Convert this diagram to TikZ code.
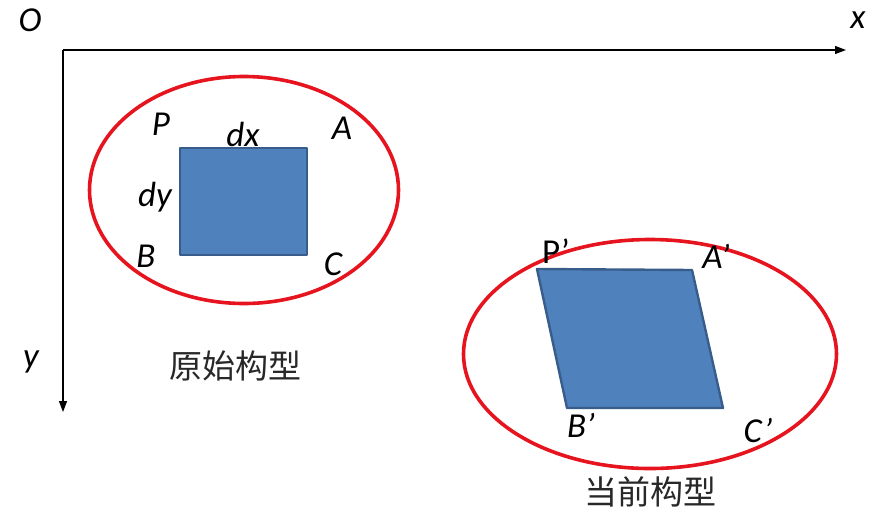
\documentclass[tikz,border=0pt]{standalone}
\usepackage{fontspec}
\setmainfont{Carlito}
\newfontfamily\cjk{Noto Sans CJK SC}
\usepackage{tikz}
\usetikzlibrary{arrows.meta,shapes.geometric}

\tikzset{
  axis/.style={line width=1.2pt,-{Triangle[length=11pt,width=8pt]}},
  ring/.style={ellipse,draw={rgb,255:red,230;green,20;blue,30},line width=3.6pt,inner sep=0pt},
  patch/.style={fill={rgb,255:red,79;green,129;blue,189},draw={rgb,255:red,56;green,93;blue,138},line width=2.4pt,line join=round},
  lbl/.style={font=\fontsize{35}{38}\selectfont\itshape,inner sep=0pt},
  captext/.style={font=\cjk\fontsize{33}{36}\selectfont,text={rgb,255:red,40;green,40;blue,40},inner sep=0pt}
}

\begin{document}
\begin{tikzpicture}[x=1pt,y=-1pt]

\useasboundingbox (0,0) rectangle (873,512);

\coordinate (o) at (63,50);
\coordinate (xend) at (846,50);
\coordinate (yend) at (63,412);

\node[lbl] (O) at (30,20) {O};
\node[lbl] (xl) at (858,20) {x};
\node[lbl] (yl) at (31,362) {y};

\draw[axis] (o) -- (xend);
\draw[axis] (o) -- (yend);

% original configuration
\node[ring,minimum width=309pt,minimum height=227pt] (e1) at (244,190) {};

\coordinate (p) at (180,148);
\coordinate (a) at (307,148);
\coordinate (c) at (307,255);
\coordinate (b) at (180,255);
\draw[patch] (p) -- (a) -- (c) -- (b) -- cycle;

\node[lbl] (pl) at (161,124) {P};
\node[lbl] (dx) at (243,134) {dx};
\node[lbl] (al) at (342,128) {A};
\node[lbl] (dy) at (155,197) {dy};
\node[lbl] (bl) at (146,256) {B};
\node[lbl] (cl) at (333,264) {C};

\node[captext] (t1) at (235,366) {原始构型};

% current configuration
\node[ring,minimum width=373pt,minimum height=229pt] (e2) at (650,354) {};

\coordinate (p2) at (537,269);
\coordinate (a2) at (692,270);
\coordinate (c2) at (723,408);
\coordinate (b2) at (567,408);
\draw[patch] (p2) -- (a2) -- (c2) -- (b2) -- cycle;

\node[lbl,font=\fontsize{35}{38}\selectfont\upshape] (pl2) at (556,251) {P’};
\node[lbl] (al2) at (716,256) {A’};
\node[lbl] (bl2) at (581,425) {B’};
\node[lbl] (cl2) at (758,430) {C’};

\node[captext] (t2) at (650,492) {当前构型};

\end{tikzpicture}
\end{document}
